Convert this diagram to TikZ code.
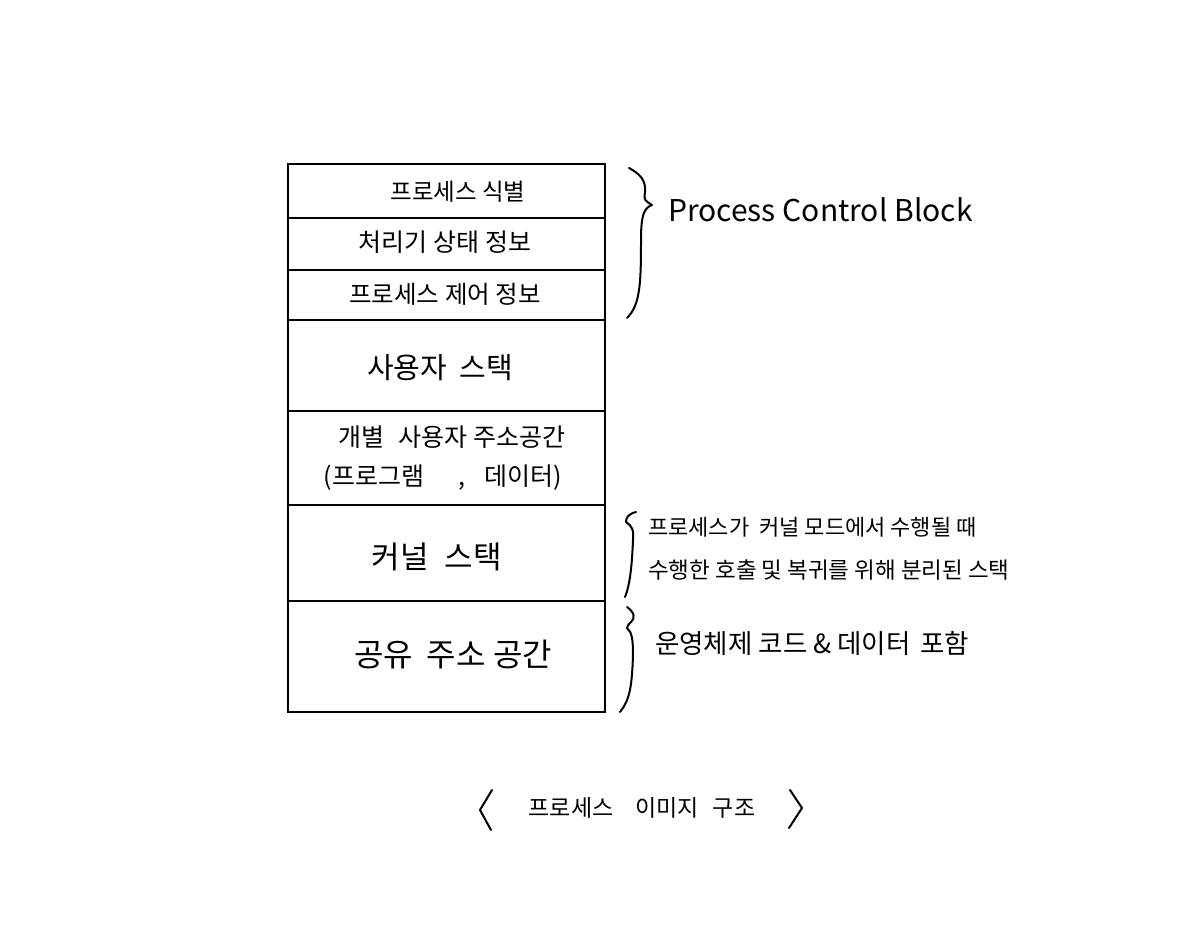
\documentclass[tikz,border=0pt]{standalone}
\usepackage{fontspec}
\setmainfont{Noto Sans CJK KR}
\begin{document}
\begin{tikzpicture}[x=1pt,y=-1pt,
  cell/.style={draw,line width=1.6pt,minimum width=317pt,inner sep=0pt},
  lbl/.style={font=\fontsize{24}{28}\selectfont,inner sep=0pt},
  brace/.style={line width=2pt,line cap=round,line join=round},
  note/.style={anchor=west,inner sep=0pt}]
\useasboundingbox[fill=white] (0,0) rectangle (1200,929);
% cells
\node[cell,minimum height=54pt] (c1) at (446.5,191) {};
\node[cell,minimum height=52pt] (c2) at (446.5,244) {};
\node[cell,minimum height=50pt] (c3) at (446.5,295) {};
\node[cell,minimum height=91pt] (c4) at (446.5,365.5) {};
\node[cell,minimum height=94pt] (c5) at (446.5,458) {};
\node[cell,minimum height=96pt] (c6) at (446.5,553) {};
\node[cell,minimum height=111pt] (c7) at (446.5,656.5) {};
% labels
\node[lbl,font=\fontsize{23.5}{28}\selectfont] (t1) at (458,192) {프로세스 식별};
\node[lbl,font=\fontsize{25}{29}\selectfont] (t2) at (445,242) {처리기 상태 정보};
\node[lbl,font=\fontsize{24.5}{29}\selectfont] (t3) at (445,294) {프로세스 제어 정보};
\node[lbl,font=\fontsize{29}{33}\selectfont] (t4) at (440,368) {사용자\hspace{12pt}스택};
\node[lbl,font=\fontsize{25}{29}\selectfont] (t5) at (452,437) {개별\hspace{14pt}사용자 주소공간};
\node[lbl,font=\fontsize{25}{29}\selectfont] (t6) at (443,478) {(프로그램\hspace{34pt},\hspace{20pt}데이터)};
\node[lbl,font=\fontsize{31}{35}\selectfont] (t7) at (437,557) {커널\hspace{16pt}스택};
\node[lbl,font=\fontsize{32}{36}\selectfont] (t8) at (453,655) {공유\hspace{14pt}주소 공간};
% brace 1 (PCB)
\coordinate (b1) at (652,205);
\draw[brace] (629,168) .. controls (640,174) and (646,180) .. (645,192)
  .. controls (644,200) .. (b1)
  (b1) .. controls (644,208) and (641,215) .. (641,240)
  .. controls (641,285) and (640,305) .. (627,318);
\node[note,font=\fontsize{30}{34}\selectfont] (pcb) at (668,210) {Process Control Block};
% brace 2 (kernel stack note)
\coordinate (b2) at (626,522);
\draw[brace] (636,512) .. controls (628,514) and (626,518) .. (b2)
  (b2) .. controls (632,526) and (634,530) .. (633,540)
  .. controls (632,565) and (630,585) .. (625,597);
\node[note,font=\fontsize{22}{26}\selectfont] (k1) at (648,527) {프로세스가\hspace{10pt}커널 모드에서 수행될 때};
\node[note,font=\fontsize{22.5}{26}\selectfont] (k2) at (648,570) {수행한 호출 및 복귀를 위해 분리된 스택};
% brace 3 (shared space note)
\coordinate (b3) at (627,628);
\draw[brace] (627,607) .. controls (634,612) and (636,618) .. (631,622)
  .. controls (628,625) .. (b3)
  (b3) .. controls (632,632) and (633,640) .. (633,655)
  .. controls (632,685) and (630,700) .. (620,712);
\node[note,font=\fontsize{26.5}{30}\selectfont] (os) at (655,643) {운영체제 코드 \& 데이터\hspace{10pt}포함};
% caption
\coordinate (la) at (492,790);
\coordinate (lb) at (480,810);
\coordinate (lc) at (491,830);
\draw[brace] (la) -- (lb) -- (lc);
\coordinate (ra) at (790,790);
\coordinate (rb) at (802,808);
\coordinate (rc) at (789,828);
\draw[brace] (ra) -- (rb) -- (rc);
\node[lbl,font=\fontsize{23}{27}\selectfont] (cap) at (642,808) {프로세스\hspace{22pt}이미지\hspace{14pt}구조};
\end{tikzpicture}
\end{document}
